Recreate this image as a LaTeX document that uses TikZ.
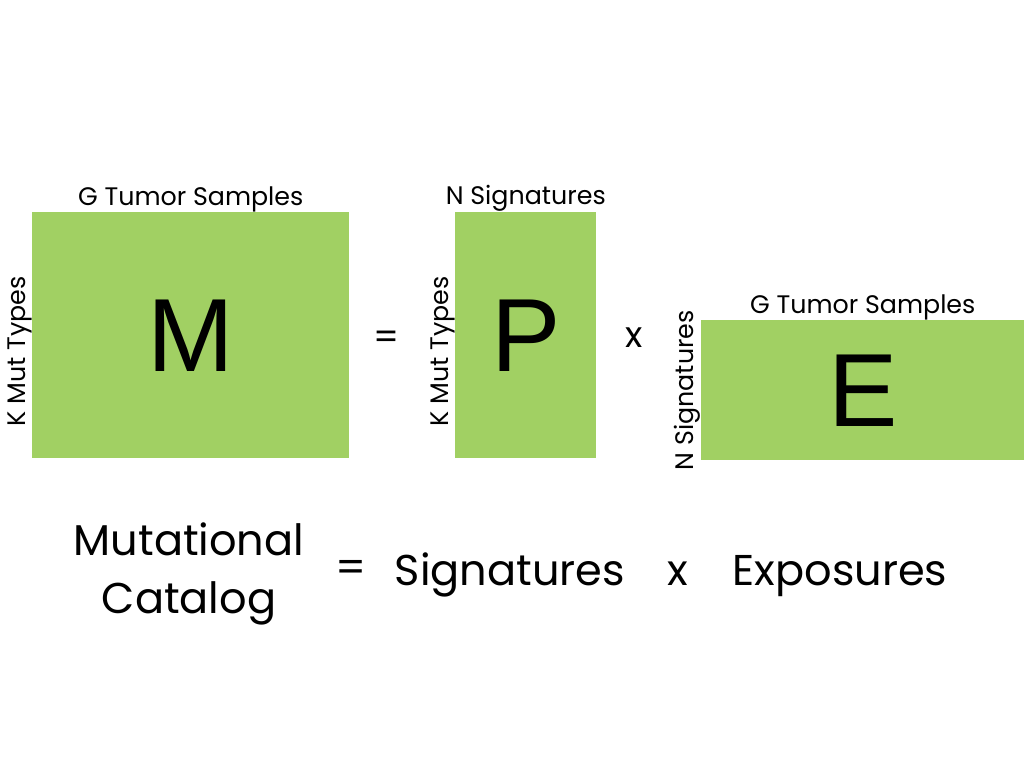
\documentclass[tikz,border=0pt]{standalone}
\usepackage{fontspec}
\setmainfont{Poppins}
\newfontfamily\letterfont{Liberation Sans}
\usetikzlibrary{positioning}
\definecolor{matgreen}{RGB}{161,208,99}

\begin{document}
\begin{tikzpicture}[x=0.75pt, y=-0.75pt,
  matbox/.style={rectangle, fill=matgreen, inner sep=0pt, anchor=north west},
  toplabel/.style={font=\fontsize{19}{22}\selectfont, inner sep=0pt},
  sidelabel/.style={font=\fontsize{19}{22}\selectfont, inner sep=0pt, rotate=90, anchor=south},
  letter/.style={font=\letterfont\fontsize{78}{90}\selectfont},
  opsign/.style={font=\fontsize{27}{30}\selectfont},
  bigword/.style={font=\fontsize{32.3}{44}\selectfont, align=center}]
\useasboundingbox (0,0) rectangle (1024,768);

\node (rectM) [matbox, minimum width=237.75pt, minimum height=184.5pt] at (32,212) {};
\node [letter] at (rectM.center) {M};
\node [toplabel, above] at (rectM.north) {G Tumor Samples};
\node [sidelabel] at ([yshift=-12pt]rectM.west) {K Mut Types};

\node (eqA) [opsign] at (387,340) {=};

\node (rectP) [matbox, minimum width=105.75pt, minimum height=184.5pt] at (455,212) {};
\node [letter] at (rectP.center) {P};
\node [toplabel, above] at (rectP.north) {N Signatures};
\node [sidelabel] at ([yshift=-12pt]rectP.west) {K Mut Types};

\node (timesA) [opsign] at (634,338) {x};

\node (rectE) [matbox, minimum width=242.25pt, minimum height=105pt] at (701,320) {};
\node [letter] at (rectE.center) {E};
\node [toplabel, above] at (rectE.north) {G Tumor Samples};
\node [sidelabel] at (rectE.west) {N Signatures};

\node (catalog) [bigword] at (189,574) {Mutational\\Catalog};
\node (eqB) [bigword] at (351,571) {=};
\node (sigs) [bigword, anchor=base] at (510,585) {Signatures};
\node (timesB) [bigword] at (678,574) {x};
\node (expos) [bigword, anchor=base] at (840,585) {Exposures};
\end{tikzpicture}
\end{document}
